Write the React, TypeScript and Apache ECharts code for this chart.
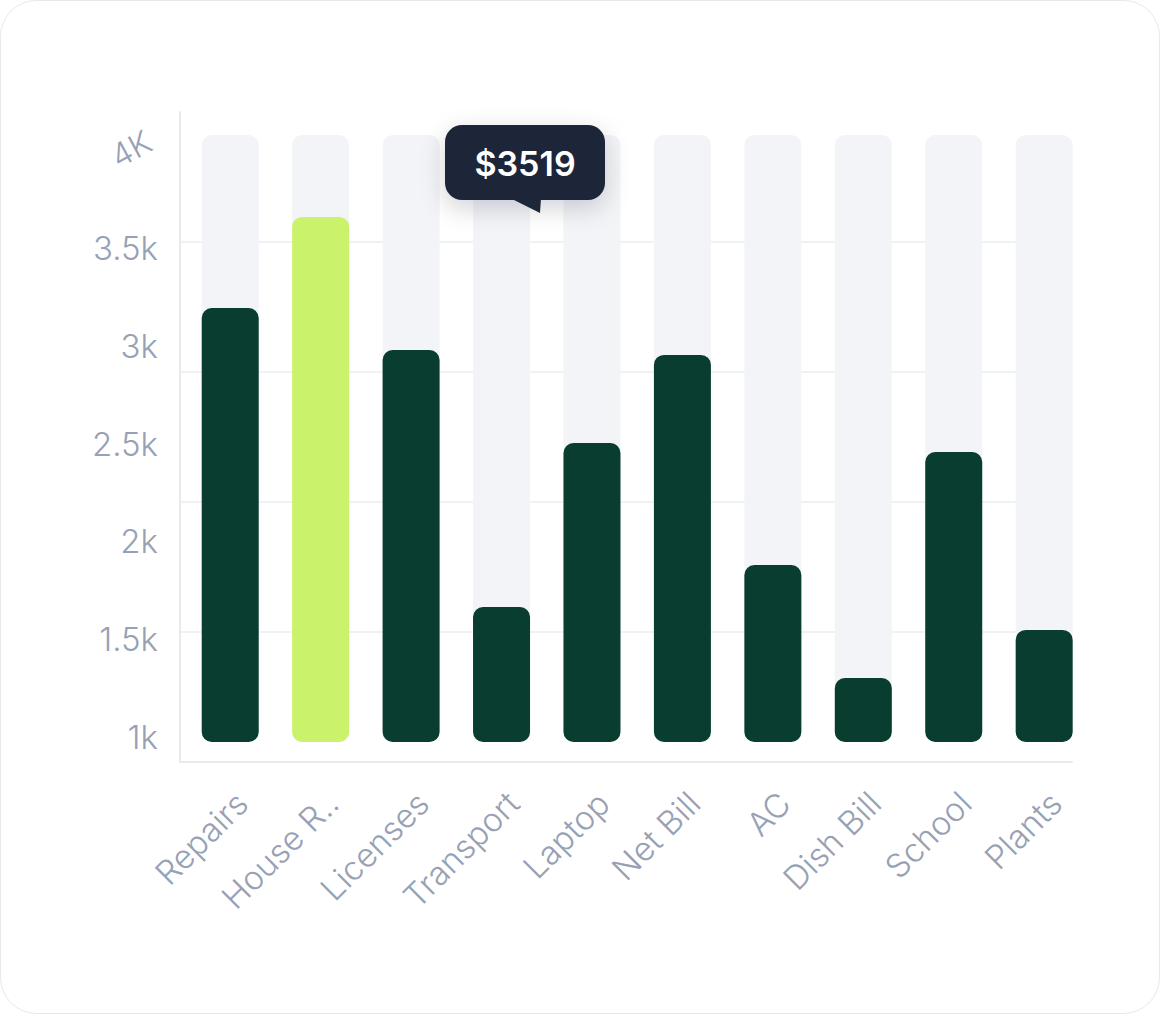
import React, { useEffect, useRef } from "react";
import * as echarts from "echarts";

const categories = ["Repairs", "House R..", "Licenses", "Transport", "Laptop", "Net Bill", "AC", "Dish Bill", "School", "Plants"];
const values = [3145, 3595, 2937, 1667, 2478, 2913, 1875, 1316, 2433, 1554];
const highlightIndex = 1;
const yTickValues = [1000, 1500, 2000, 2500, 3000, 3500];
const topTickLabel = "4K";
const tooltipText = "$3519";

const FONT = "Inter, 'Noto Sans', sans-serif";
const DARK = "#083d30";
const LIME = "#caf26a";
const LABEL = "#97a1b4";

export default function App() {
  const ref = useRef<HTMLDivElement>(null);
  useEffect(() => {
    if (!ref.current) return;
    const chart = echarts.init(ref.current, null, { renderer: "svg" });
    const option: any = {
      animation: false,
      backgroundColor: "#ffffff",
      grid: [
        { left: 185, top: 135, width: 904.4, height: 607 },
        { left: 180, top: 112, width: 892, height: 650 },
        { left: 180, top: 150, width: 892, height: 587 },
      ],
      xAxis: [
        {
          type: "category",
          gridIndex: 0,
          data: categories,
          axisLine: { show: false },
          axisTick: { show: false },
          axisLabel: {
            rotate: 45,
            margin: 44,
            verticalAlign: "top",
            color: LABEL,
            fontSize: 33,
            fontWeight: 300,
            fontFamily: FONT,
            interval: 0,
          },
        },
        {
          type: "value",
          gridIndex: 1,
          min: 0,
          max: 1,
          axisLine: { show: true, lineStyle: { color: "#e8eaef", width: 2 } },
          axisTick: { show: false },
          axisLabel: { show: false },
          splitLine: { show: false },
        },
        {
          type: "value",
          gridIndex: 2,
          show: false,
        },
      ],
      yAxis: [
        {
          type: "value",
          gridIndex: 0,
          min: 1000,
          max: 4000,
          show: false,
        },
        {
          type: "value",
          gridIndex: 1,
          min: 0,
          max: 5,
          interval: 1,
          axisLine: { show: true, lineStyle: { color: "#e8eaef", width: 2 } },
          axisTick: { show: false },
          axisLabel: { show: false },
          splitLine: {
            show: true,
            showMinLine: false,
            showMaxLine: false,
            lineStyle: { color: "#eff1f5", width: 2 },
          },
        },
        {
          type: "value",
          gridIndex: 2,
          min: yTickValues[0],
          max: yTickValues[yTickValues.length - 1] + 500,
          interval: 500,
          axisLine: { show: false },
          axisTick: { show: false },
          splitLine: { show: false },
          axisLabel: {
            margin: 22,
            color: LABEL,
            fontSize: 33,
            fontWeight: 300,
            fontFamily: FONT,
            formatter: (v: number) => (yTickValues.indexOf(v) >= 0 ? v / 1000 + "k" : ""),
          },
        },
      ],
      series: [
        {
          type: "bar",
          xAxisIndex: 0,
          yAxisIndex: 0,
          barWidth: 57,
          z: 2,
          data: values.map((v, i) => ({
            value: v,
            itemStyle: { color: i === highlightIndex ? LIME : DARK },
          })),
          itemStyle: { borderRadius: 10 },
          showBackground: true,
          backgroundStyle: { color: "#f3f4f8", borderRadius: 10 },
        },
      ],
      graphic: [
        {
          type: "rect",
          z: -10,
          silent: true,
          shape: { x: 0.5, y: 0.5, width: 1159, height: 1013, r: 36 },
          style: { fill: "#ffffff", stroke: "#e6e8ec", lineWidth: 1 },
        },
        {
          type: "text",
          x: 131,
          y: 149,
          rotation: 0.5,
          style: {
            text: topTickLabel,
            fill: LABEL,
            font: `300 32px ${FONT}`,
            align: "center",
            verticalAlign: "middle",
          },
        },
        {
          type: "rect",
          z: 100,
          shape: { x: 445, y: 125, width: 160, height: 75, r: 17 },
          style: {
            fill: "#1c2739",
            shadowBlur: 24,
            shadowOffsetY: 8,
            shadowColor: "rgba(15,23,42,0.18)",
          },
        },
        {
          type: "polygon",
          z: 101,
          shape: { points: [[510, 198], [541, 198], [540, 213]] },
          style: { fill: "#1c2739" },
        },
        {
          type: "text",
          z: 102,
          x: 525,
          y: 163,
          style: {
            text: tooltipText,
            fill: "#ffffff",
            font: `600 34px ${FONT}`,
            align: "center",
            verticalAlign: "middle",
          },
        },
      ],
    };
    chart.setOption(option);
    return () => chart.dispose();
  }, []);
  return (
    <div
      ref={ref}
      style={{ position: "fixed", left: 0, top: 0, width: 1160, height: 1014 }}
    />
  );
}
